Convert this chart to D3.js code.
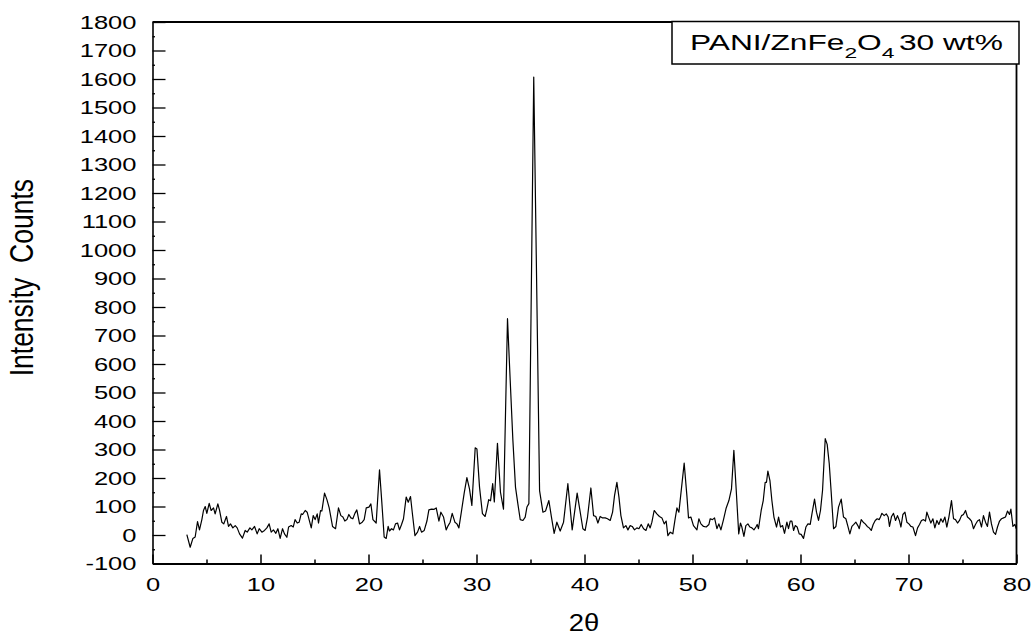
<!DOCTYPE html>
<html>
<head>
<meta charset="utf-8">
<script src="https://cdn.jsdelivr.net/npm/d3@7"></script>
<style>
  html, body { margin: 0; padding: 0; background: #fff; }
  svg { display: block; }
  text { font-family: "Liberation Sans", Arial, sans-serif; fill: #000; }
</style>
</head>
<body>
<svg id="chart" width="1034" height="635"></svg>
<script>
// ---- data ----
const twoTheta = [
  3.18,3.49,3.74,3.95,4.17,4.35,4.57,4.72,4.88,5.03,5.25,5.43,5.65,5.8,6.05,6.2,6.42,6.6,6.85,7.04,
  7.22,7.44,7.66,7.84,8.06,8.33,8.58,8.77,9.02,9.2,9.45,9.69,9.88,10.13,10.37,10.59,10.8,10.99,11.2,11.42,
  11.61,11.82,12.04,12.22,12.44,12.6,12.84,13.03,13.2,13.4,13.58,13.77,13.9,14.14,14.32,14.5,14.7,14.88,15.06,15.25,
  15.37,15.56,15.68,15.93,16.15,16.36,16.67,16.95,17.22,17.44,17.63,17.81,18.0,18.18,18.37,18.55,18.74,18.92,19.17,19.42,
  19.6,19.79,20.04,20.22,20.41,20.71,21.02,21.24,21.45,21.64,21.82,21.94,22.13,22.31,22.5,22.69,22.87,23.06,23.24,23.49,
  23.68,23.89,24.05,24.3,24.54,24.73,24.91,25.16,25.41,25.59,25.84,26.08,26.27,26.52,26.7,26.95,27.19,27.38,27.56,27.75,
  28.0,28.19,28.37,28.61,28.86,29.11,29.35,29.57,29.88,30.04,30.28,30.55,30.8,30.96,31.13,31.3,31.5,31.65,31.94,32.22,
  32.5,32.87,33.12,33.37,33.61,33.83,34.05,34.3,34.51,34.67,34.85,35.3,35.84,36.15,36.39,36.7,36.94,37.19,37.44,37.75,
  38.06,38.46,38.86,39.32,39.85,40.06,40.28,40.59,40.84,41.05,41.24,41.45,41.67,41.92,42.13,42.38,42.6,42.78,43.0,43.19,
  43.37,43.61,43.83,44.02,44.23,44.42,44.63,44.85,45.04,45.25,45.47,45.69,45.9,46.08,46.24,46.45,46.7,46.94,47.17,47.38,
  47.56,47.72,47.94,48.18,48.37,48.56,48.74,49.23,49.48,49.63,49.85,50.09,50.41,50.59,50.78,51.02,51.27,51.52,51.64,51.85,
  52.04,52.26,52.44,52.63,52.87,53.12,53.37,53.61,53.83,54.05,54.28,54.44,54.57,54.76,54.94,55.13,55.31,55.5,55.69,55.87,
  55.99,56.11,56.36,56.55,56.73,56.85,56.98,57.17,57.35,57.54,57.78,57.97,58.15,58.34,58.52,58.74,58.89,59.05,59.2,59.36,
  59.51,59.69,59.88,60.06,60.28,60.5,60.69,60.9,61.06,61.3,61.48,61.67,61.85,62.04,62.29,62.47,62.66,62.84,63.06,63.28,
  63.52,63.77,63.98,64.2,64.39,64.57,64.76,64.94,65.13,65.31,65.44,65.62,65.81,65.99,66.18,66.36,66.55,66.73,66.92,67.1,
  67.29,67.4,67.54,67.75,67.94,68.12,68.24,68.43,68.61,68.8,68.98,69.17,69.3,69.48,69.67,69.85,70.04,70.22,70.41,70.65,
  70.84,71.02,71.2,71.39,71.57,71.7,71.89,72.07,72.26,72.44,72.63,72.81,73.0,73.18,73.37,73.55,73.74,73.98,74.17,74.35,
  74.54,74.72,74.91,75.09,75.28,75.46,75.65,75.83,76.02,76.2,76.39,76.57,76.76,76.94,77.13,77.31,77.5,77.68,77.87,78.06,
  78.24,78.43,78.61,78.8,78.98,79.17,79.35,79.48,79.67,79.85,79.98
];
const intensity = [
  1,-43,-12,-7,47,18,54,86,100,76,111,86,95,74,109,88,45,39,65,30,
  39,25,33,25,4,-11,16,10,25,18,30,4,22,10,16,25,39,10,18,6,
  22,-12,22,4,-8,28,33,28,54,42,45,74,72,86,80,54,25,68,54,74,
  42,86,84,147,124,95,30,22,95,68,63,49,54,72,60,57,76,88,39,45,
  54,95,98,109,54,42,229,111,-7,-12,30,14,22,18,39,42,18,37,57,133,
  115,135,80,-2,10,30,10,16,49,88,91,90,95,49,80,63,18,33,45,76,
  45,39,25,84,147,201,162,104,306,302,168,75,65,91,124,120,180,116,322,150,
  91,759,543,332,168,109,54,51,63,98,110,1607,156,80,84,121,63,6,45,14,
  45,180,18,147,22,16,63,165,68,65,42,65,60,60,57,51,80,138,185,133,
  68,25,33,18,33,30,18,25,22,37,22,16,39,25,45,86,74,65,60,39,
  49,-2,10,4,51,95,80,252,138,60,63,33,18,57,39,30,28,37,57,54,
  60,22,39,18,54,95,121,162,297,156,4,42,28,-5,33,39,28,25,18,28,
  37,22,86,121,185,185,224,191,121,63,28,63,28,33,6,45,22,49,49,16,
  33,28,4,2,-12,28,39,37,74,126,80,51,86,156,338,318,251,151,22,30,
  98,126,63,57,30,4,30,37,45,33,22,54,45,39,30,25,16,37,51,57,
  54,63,76,68,74,63,30,65,76,51,68,49,28,72,80,45,39,30,28,-2,
  25,37,51,54,49,80,60,42,57,25,51,37,57,45,63,28,63,121,57,54,
  42,51,68,72,86,63,57,49,22,37,49,54,28,68,45,30,80,39,10,2,
  28,49,57,60,63,84,72,91,30,37,22
];
const xTickValues = [0,10,20,30,40,50,60,70,80];
const xMinorValues = [5,15,25,35,45,55,65,75];
const yTickValues = [-100,0,100,200,300,400,500,600,700,800,900,1000,1100,1200,1300,1400,1500,1600,1700,1800];
const yMinorValues = [-50,50,150,250,350,450,550,650,750,850,950,1050,1150,1250,1350,1450,1550,1650,1750];
const legendParts = ["PANI/ZnFe", "2", "O", "4", "30 wt%"];
const xTitle = "2\u03b8";
const yTitle = "Intensity\u00a0\u00a0Counts";

// ---- layout ----
const L = 152.5, R = 1016.5, T = 22, B = 563.5;
const svg = d3.select("#chart");
const x = d3.scaleLinear().domain([0, 80]).range([L, R]);
const y = d3.scaleLinear().domain([-100, 1800]).range([B, T]);
const sx = 1.38; // horizontal stretch of tick labels
const plain = d => String(d).replace("\u2212", "-");

// frame (top/right)
svg.append("line").attr("x1", L).attr("x2", R).attr("y1", T).attr("y2", T)
  .attr("stroke", "#000").attr("stroke-width", 2);
svg.append("line").attr("x1", R).attr("x2", R).attr("y1", T).attr("y2", B)
  .attr("stroke", "#000").attr("stroke-width", 1.8);

// x axis
const gx = svg.append("g").attr("transform", `translate(0,${B})`)
  .call(d3.axisBottom(x).tickValues(xTickValues).tickFormat(plain)
    .tickSizeInner(-9).tickSizeOuter(0).tickPadding(0));
gx.select(".domain").attr("stroke-width", 2);
gx.selectAll(".tick line").attr("stroke-width", 1.5);
gx.selectAll(".tick text")
  .attr("font-size", 18.5).attr("font-family", "Liberation Sans, Arial, sans-serif")
  .attr("y", 27.5).attr("dy", 0)
  .attr("transform", `scale(${sx},1)`);
svg.append("g").attr("transform", `translate(0,${B})`)
  .call(d3.axisBottom(x).tickValues(xMinorValues).tickSizeInner(-4).tickSizeOuter(0).tickFormat(""))
  .call(g => g.select(".domain").remove())
  .selectAll(".tick line").attr("stroke-width", 1.5);

// y axis
const gy = svg.append("g").attr("transform", `translate(${L},0)`)
  .call(d3.axisLeft(y).tickValues(yTickValues).tickFormat(plain)
    .tickSizeInner(-13).tickSizeOuter(0).tickPadding(0));
gy.select(".domain").attr("stroke-width", 1.6);
gy.selectAll(".tick line").attr("stroke-width", 1.3);
gy.selectAll(".tick text")
  .attr("font-size", 18.5).attr("font-family", "Liberation Sans, Arial, sans-serif")
  .attr("x", -16 / sx).attr("dy", "0.35em")
  .attr("transform", `scale(${sx},1)`);
svg.append("g").attr("transform", `translate(${L},0)`)
  .call(d3.axisLeft(y).tickValues(yMinorValues).tickSizeInner(-2.5).tickSizeOuter(0).tickFormat(""))
  .call(g => g.select(".domain").remove())
  .selectAll(".tick line").attr("stroke-width", 1.3);

// data line
const pts = twoTheta.map((t, i) => [t, intensity[i]]);
svg.append("path").datum(pts)
  .attr("fill", "none").attr("stroke", "#000").attr("stroke-width", 1.2)
  .attr("stroke-linejoin", "round")
  .attr("d", d3.line().x(d => x(d[0])).y(d => y(d[1])));

// axis titles
svg.append("text")
  .attr("transform", `translate(584,630.5) scale(1.12,1)`)
  .attr("text-anchor", "middle").attr("font-size", 24.5)
  .text(xTitle);
svg.append("text")
  .attr("transform", `translate(32.5,179) scale(1.25,1) rotate(-90)`)
  .attr("text-anchor", "end").attr("font-size", 26.5)
  .text(yTitle);

// legend box
svg.append("rect").attr("x", 672).attr("y", 21.5).attr("width", 347).attr("height", 42.5)
  .attr("fill", "#fff").attr("stroke", "#000").attr("stroke-width", 1.5);
const lt = svg.append("text").attr("font-size", 21.5);
lt.append("tspan").text(legendParts[0]);
lt.append("tspan").attr("font-size", 15.5).attr("dy", 7.5).text(legendParts[1]);
lt.append("tspan").attr("dy", -7.5).text(legendParts[2]);
lt.append("tspan").attr("font-size", 15.5).attr("dy", 7.5).text(legendParts[3]);
lt.append("tspan").attr("dy", -7.5).attr("dx", 3).text(legendParts[4]);
const lw = lt.node().getComputedTextLength() + 3;
lt.attr("transform", `translate(690,50) scale(${313 / lw},1)`);
</script>
</body>
</html>
